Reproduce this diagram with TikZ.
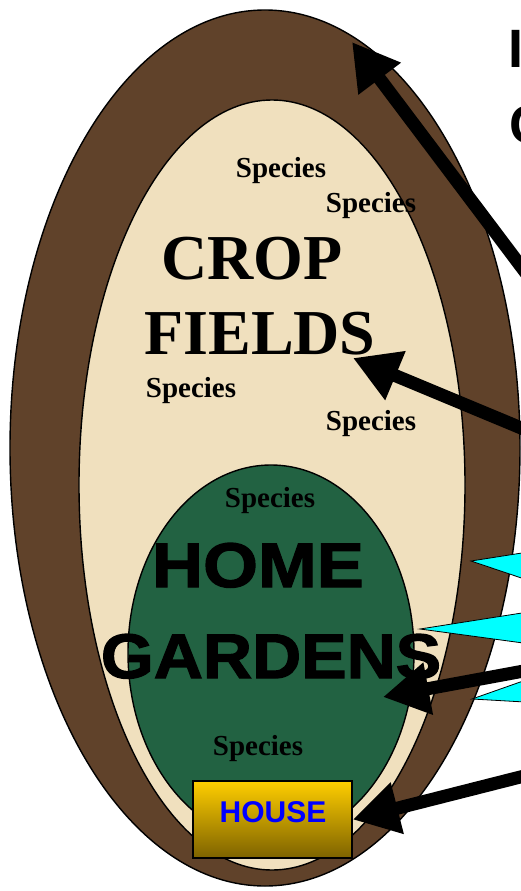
\documentclass[tikz,border=0pt]{standalone}
\usepackage{fontspec}
\setmainfont{Liberation Serif}
\newfontfamily\gardenfont[FakeBold=2,FakeStretch=1.08]{Liberation Sans Bold}
\newfontfamily\homefont[FakeBold=2,FakeStretch=1.12]{Liberation Sans Bold}
\newfontfamily\sansbold{Liberation Sans Bold}
\usepackage{tikz,xcolor}
\usetikzlibrary{arrows.meta}

\definecolor{soilbrown}{RGB}{96,66,42}
\definecolor{fieldbeige}{RGB}{240,224,190}
\definecolor{gardengreen}{RGB}{34,98,66}
\definecolor{housetop}{RGB}{255,206,0}
\definecolor{housebot}{RGB}{125,98,0}
\definecolor{wedgecyan}{RGB}{0,255,255}

\tikzset{
  species/.style={anchor=base,inner sep=0pt,font=\fontsize{29}{29}\selectfont\bfseries},
  croptext/.style={inner sep=0pt,font=\fontsize{64}{64}\selectfont\bfseries},
  gardentext/.style={anchor=base,inner sep=0pt,font=\fontsize{63}{63}\selectfont\gardenfont},
  bigarrow/.style={line width=13pt,-{Triangle[length=46pt,width=50pt]}},
  wedge/.style={fill=wedgecyan,draw=black,line width=0.8pt}
}

\begin{document}
\begin{tikzpicture}[x=1pt,y=-1pt]
\useasboundingbox (0,0) rectangle (521,891);
\clip (0,0) rectangle (521,891);

% the three zones
\filldraw[fill=soilbrown,draw=black,line width=1.4pt] (265,448) ellipse [x radius=255,y radius=438];
\filldraw[fill=fieldbeige,draw=black,line width=1.4pt] (272,485) ellipse [x radius=193,y radius=385];
\filldraw[fill=gardengreen,draw=black,line width=1.4pt] (271,653) ellipse [x radius=143,y radius=188];

% crop fields
\node[croptext] (crop) at (252,259) {CROP};
\node[croptext] (fields) at (260,334) {FIELDS};
\node[species] (sp1) at (281,177) {Species};
\node[species] (sp2) at (371,212) {Species};
\node[species] (sp3) at (191,397) {Species};
\node[species] (sp4) at (371,430) {Species};

% home gardens
\node[species] (sp5) at (270,507) {Species};
\node[gardentext,font=\fontsize{63}{63}\selectfont\homefont] (home) at (258,587) {HOME};
\node[gardentext] (gardens) at (271,678) {GARDENS};
\node[species] (sp6) at (258,755) {Species};

% house
\node[draw=black,line width=1.4pt,top color=housetop,bottom color=housebot,
      minimum width=159pt,minimum height=77pt,inner sep=0pt] (house) at (272.5,819.5) {};
\node[anchor=base,inner sep=0pt,text=blue,font=\fontsize{30}{30}\selectfont\sansbold] (houselbl) at (273,822) {HOUSE};

% text cut off at the right
\node[anchor=base west,inner sep=0pt,font=\fontsize{54}{54}\selectfont\sansbold] (ttl1) at (508,67) {I};
\node[anchor=base west,inner sep=0pt,font=\fontsize{54}{54}\selectfont\sansbold] (ttl2) at (509,143) {C};

% callout wedges
\filldraw[wedge] (471,561) -- (560,547) -- (560,591) -- cycle;
\filldraw[wedge] (420,629) -- (560,607) -- (560,648) -- cycle;
\filldraw[wedge] (472,699) -- (560,668) -- (560,704) -- cycle;

% arrows
\coordinate (a1) at (538,289); \coordinate (t1) at (352,42);
\coordinate (a2) at (538,435); \coordinate (t2) at (353,358);
\coordinate (a3) at (540,668); \coordinate (t3) at (383,697);
\coordinate (a4) at (540,772);
\draw[bigarrow] (a1) -- (t1);
\draw[bigarrow] (a2) -- (t2);
\draw[bigarrow] (a3) -- (t3);
\draw[bigarrow] (a4) -- (house.east);

\end{tikzpicture}
\end{document}
